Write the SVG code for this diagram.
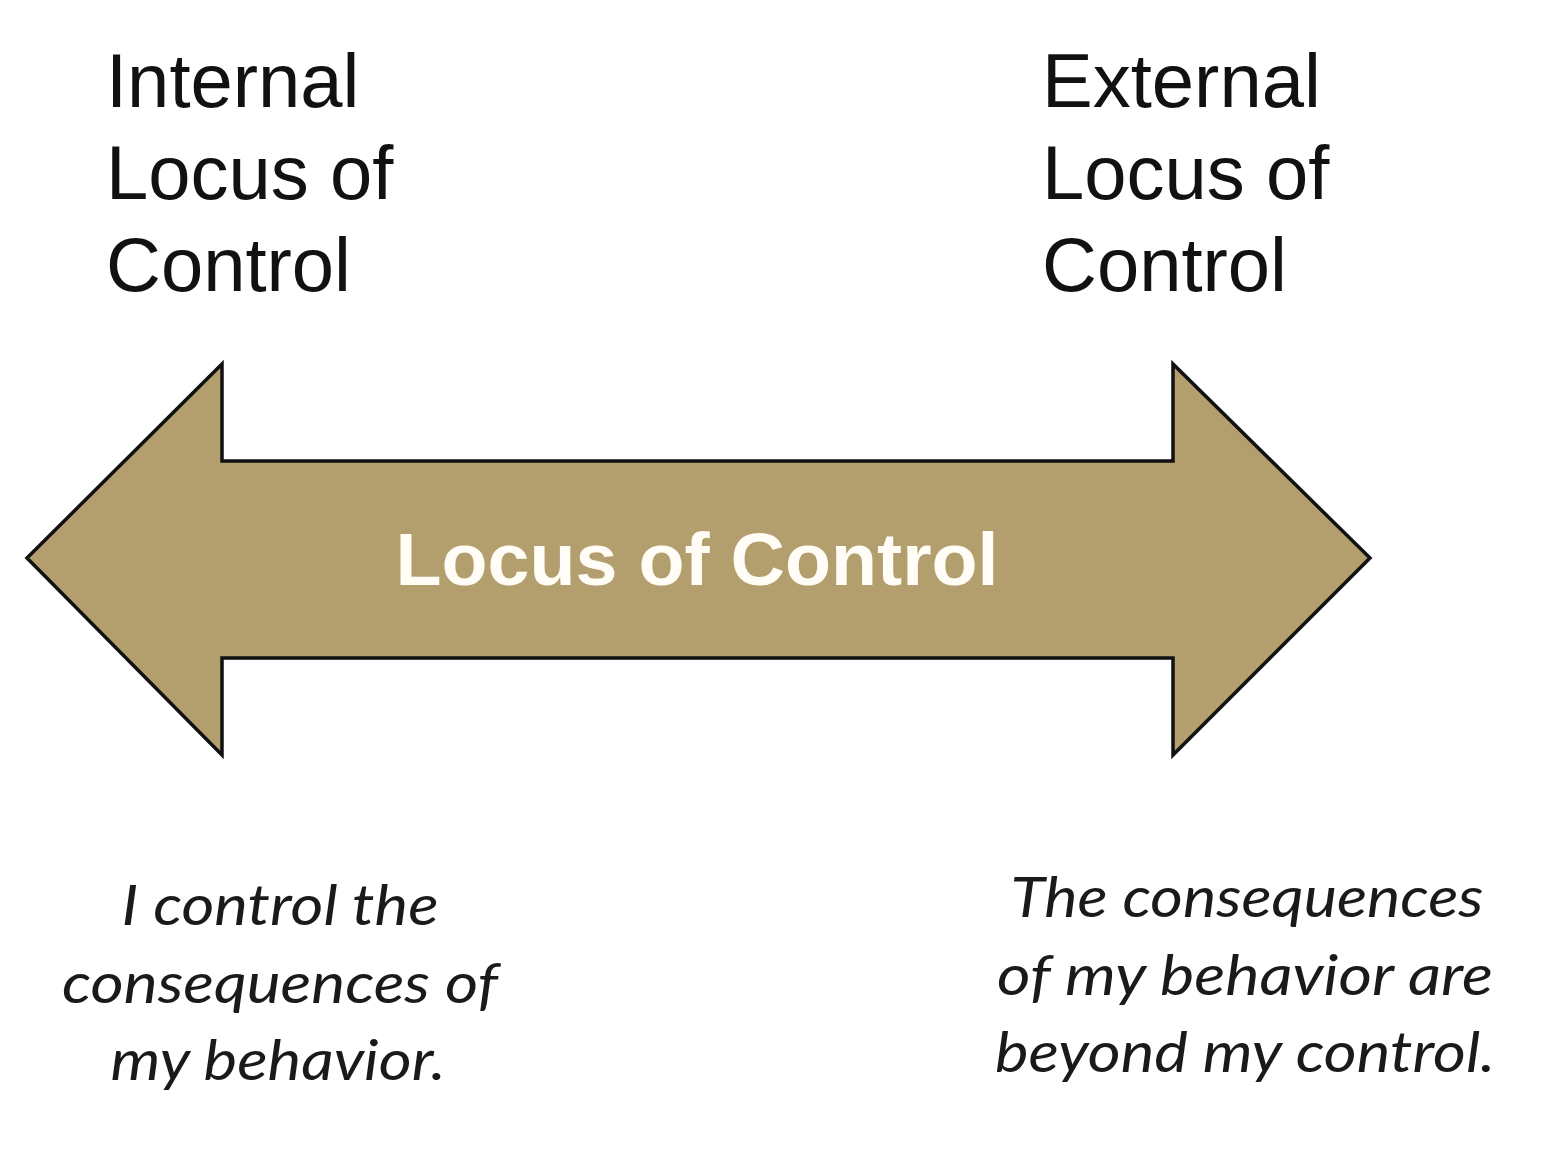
<svg xmlns="http://www.w3.org/2000/svg" width="1546" height="1174" viewBox="0 0 1546 1174">
<style>
.hd{font-family:"Liberation Sans",Arial,sans-serif;font-size:76px;fill:#111}
.ctr{font-family:"Liberation Sans",Arial,sans-serif;font-size:75px;font-weight:bold;fill:#fffdf6}
.it{font-family:Lato,"Open Sans",sans-serif;font-style:italic;font-size:56px;fill:#1a1a1a}
</style>
<rect width="1546" height="1174" fill="#fff"/>
<g id="arrow">
<polygon points="27,558 222,364 222,461 1173,461 1173,364 1370,558 1173,755 1173,658 222,658 222,755" fill="#b39e6e" stroke="#111" stroke-width="3.5" stroke-linejoin="miter"/>
<text class="ctr" x="697" y="585" text-anchor="middle" textLength="603" lengthAdjust="spacingAndGlyphs">Locus of Control</text>
</g>
<g id="internal">
<text class="hd" x="106" y="107">Internal</text>
<text class="hd" x="106" y="199">Locus of</text>
<text class="hd" x="106" y="291">Control</text>
</g>
<g id="external">
<text class="hd" x="1042" y="107">External</text>
<text class="hd" x="1042" y="199">Locus of</text>
<text class="hd" x="1042" y="291">Control</text>
</g>
<g id="internal-desc">
<text class="it" x="280" y="925" text-anchor="middle" textLength="317" lengthAdjust="spacingAndGlyphs">I control the</text>
<text class="it" x="280" y="1003" text-anchor="middle" textLength="436" lengthAdjust="spacingAndGlyphs">consequences of</text>
<text class="it" x="278" y="1080" text-anchor="middle" textLength="335" lengthAdjust="spacingAndGlyphs">my behavior.</text>
</g>
<g id="external-desc">
<text class="it" x="1247" y="917" text-anchor="middle" textLength="473" lengthAdjust="spacingAndGlyphs">The consequences</text>
<text class="it" x="1245" y="995" text-anchor="middle" textLength="496" lengthAdjust="spacingAndGlyphs">of my behavior are</text>
<text class="it" x="1245" y="1072" text-anchor="middle" textLength="500" lengthAdjust="spacingAndGlyphs">beyond my control.</text>
</g>
<g id="connectors"/>
</svg>
